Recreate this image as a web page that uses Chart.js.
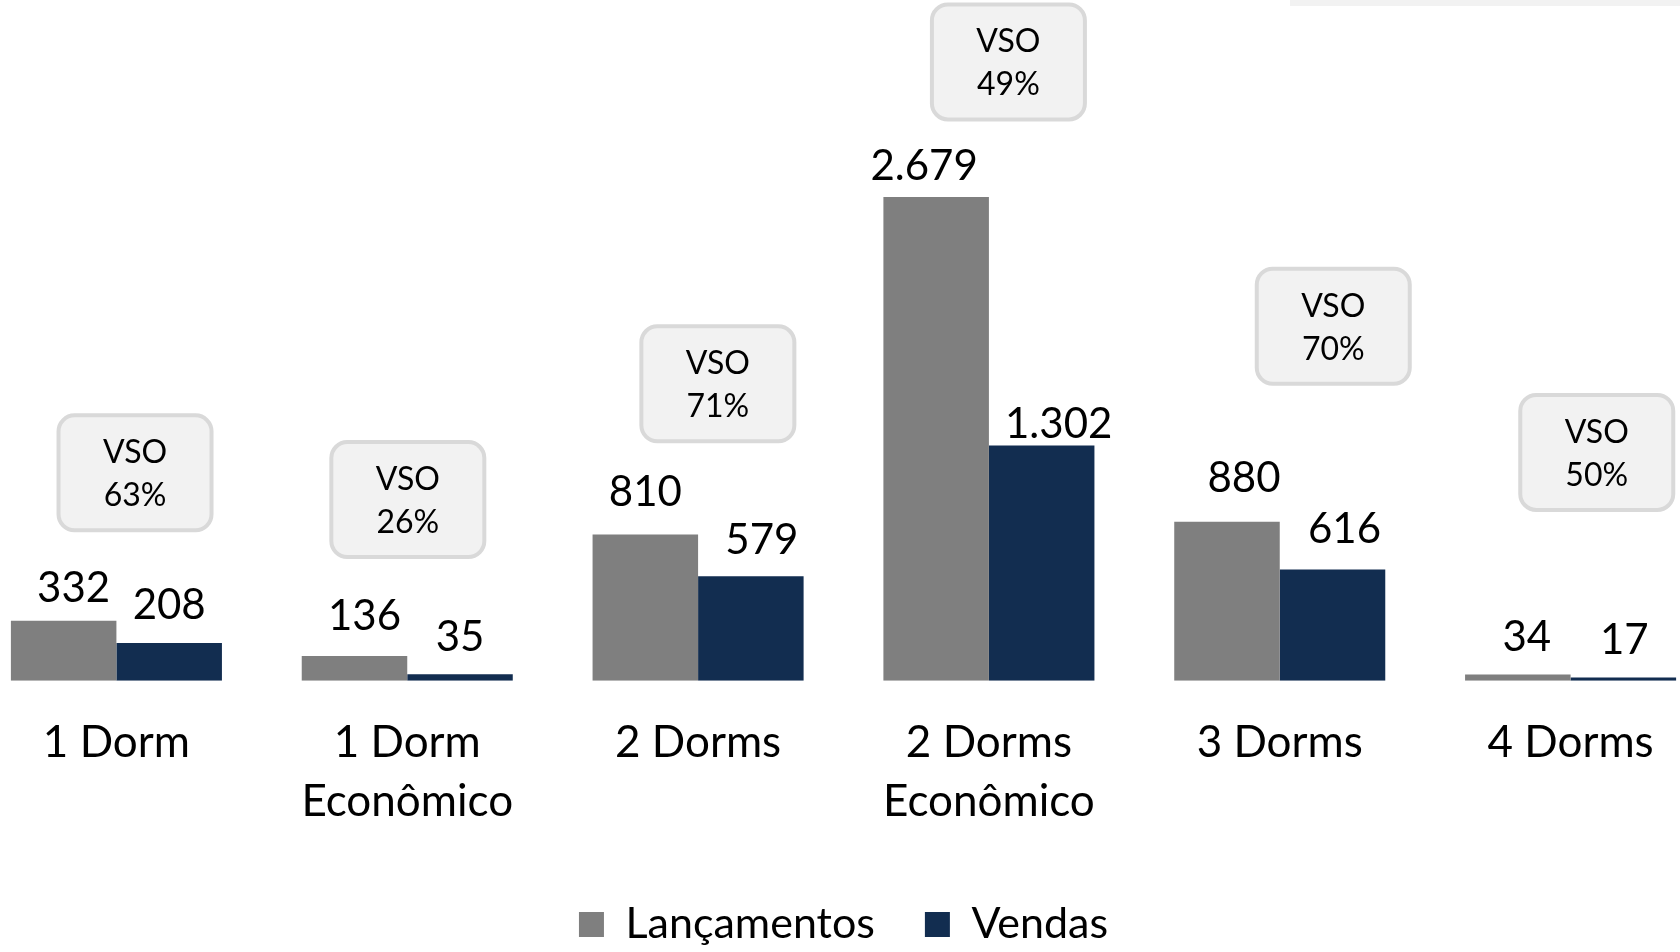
<!DOCTYPE html>
<html><head><meta charset="utf-8">
<script src="https://cdn.jsdelivr.net/npm/chart.js@4.4.1/dist/chart.umd.min.js"></script>
<style>
html,body{margin:0;padding:0;background:#fff;overflow:hidden;width:1680px;height:952px;}
#wrap{position:absolute;left:-29px;top:0;width:1745px;height:956px;}
#strip{position:absolute;left:1290px;top:0;width:390px;height:6px;background:#f2f2f2;}
</style></head><body>
<div id="wrap"><canvas id="c" width="1745" height="956"></canvas></div>
<div id="strip"></div>
<script>
// ---- data ----
const categories = [["1 Dorm"], ["1 Dorm", "Econômico"], ["2 Dorms"], ["2 Dorms", "Econômico"], ["3 Dorms"], ["4 Dorms"]];
const seriesNames = ["Lançamentos", "Vendas"];
const lancamentos = [332, 136, 810, 2679, 880, 34];
const vendas = [208, 35, 579, 1302, 616, 17];
const vso = [63, 26, 71, 49, 70, 50];

// ---- label / callout layout (positions only, not data) ----
const labelDx = [[10, 10, 0, -12, 17, 9], [0, 0, 11, 17, 12, 1]];      // px from bar centre
const labelDy = [[34, 41, 43, 32, 45, 39], [39, 38, 37, 23, 42, 39]];  // px above bar top
const vsoBoxDx = [0.064, 0.002, 0.068, 0.067, 0.184, 0.090];  // fraction of category width
const vsoBoxY = [1151, 1003, 1644, 3427, 1963, 1264];          // box centre in axis units

const FONT = 'Lato';
function fmt(v){ return String(v).replace(/\B(?=(\d{3})+(?!\d))/g, '.'); }

const labelsPlugin = {
  id: 'labelsAndCallouts',
  afterDatasetsDraw(chart){
    const ctx = chart.ctx;
    ctx.save();
    ctx.fillStyle = '#000';
    ctx.textAlign = 'center';
    ctx.textBaseline = 'middle';
    ctx.font = '42px ' + FONT;
    chart.data.datasets.forEach((ds, di) => {
      const meta = chart.getDatasetMeta(di);
      meta.data.forEach((bar, i) => {
        ctx.fillText(fmt(ds.data[i]), bar.x + labelDx[di][i], bar.y - labelDy[di][i] + 1.5);
      });
    });
    const xs = chart.scales.x, ys = chart.scales.y;
    const catW = xs.width / categories.length;
    const bw = 157, bh = 119, lw = 4;
    vso.forEach((v, i) => {
      const cx = xs.getPixelForValue(i) + vsoBoxDx[i] * catW;
      const cy = ys.getPixelForValue(vsoBoxY[i]);
      ctx.beginPath();
      ctx.roundRect(cx - bw/2 + lw/2, cy - bh/2 + lw/2, bw - lw, bh - lw, 16);
      ctx.fillStyle = '#f2f2f2';
      ctx.fill();
      ctx.lineWidth = lw;
      ctx.strokeStyle = '#d9d9d9';
      ctx.stroke();
      ctx.fillStyle = '#000';
      ctx.font = '32px ' + FONT;
      ctx.fillText('VSO', cx, cy - 20);
      ctx.fillText(v + '%', cx, cy + 23);
    });
    ctx.restore();
  }
};

function draw(){
  new Chart(document.getElementById('c'), {
    type: 'bar',
    data: {
      labels: categories,
      datasets: [
        { label: seriesNames[0], data: lancamentos, backgroundColor: '#7f7f7f', categoryPercentage: 0.7256, barPercentage: 1, borderWidth: 0 },
        { label: seriesNames[1], data: vendas, backgroundColor: '#122d50', categoryPercentage: 0.7256, barPercentage: 1, borderWidth: 0 }
      ]
    },
    options: {
      responsive: false,
      animation: false,
      devicePixelRatio: 1,
      layout: { padding: { top: 139, left: 0, right: 0, bottom: 0 } },
      plugins: {
        legend: {
          position: 'bottom',
          labels: { font: { family: FONT, size: 43 }, color: '#000', boxWidth: 25, boxHeight: 25, padding: 50 }
        },
        tooltip: { enabled: false }
      },
      scales: {
        x: {
          grid: { display: false, drawTicks: false },
          border: { display: false },
          ticks: { font: { family: FONT, size: 44, lineHeight: 1.34 }, color: '#000', padding: 32.5, maxRotation: 0, autoSkip: false },
          afterFit(s){ s.height = s.height - 10.6; }
        },
        y: { display: false, min: 0, max: 3000 }
      }
    },
    plugins: [labelsPlugin]
  });
}
if (document.fonts && document.fonts.load) {
  Promise.all([document.fonts.load('43px Lato'), document.fonts.load('32px Lato')]).then(draw, draw);
} else { draw(); }
</script>
</body></html>
